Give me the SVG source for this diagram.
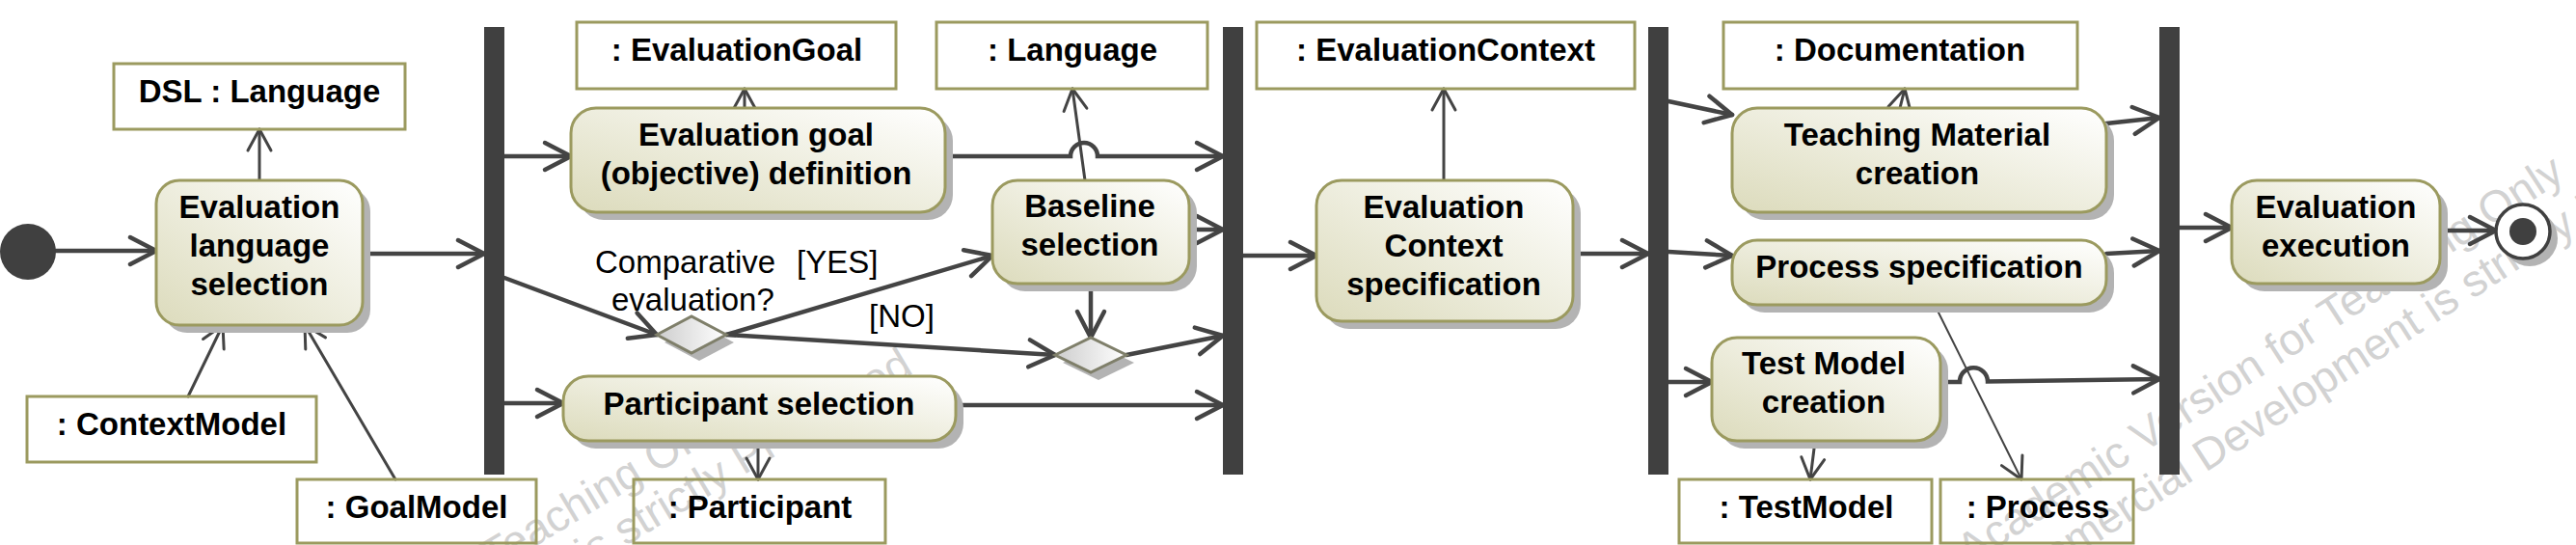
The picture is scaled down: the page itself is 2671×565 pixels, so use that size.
<svg xmlns="http://www.w3.org/2000/svg" width="2671" height="565" viewBox="0 0 2671 565">
<defs>
<linearGradient id="ag" x1="0" y1="1" x2="1" y2="0">
<stop offset="0" stop-color="#dcdbbc"/>
<stop offset="1" stop-color="#ffffff"/>
</linearGradient>
<linearGradient id="dg" x1="0" y1="0" x2="1" y2="0">
<stop offset="0" stop-color="#cdcdcd"/>
<stop offset="1" stop-color="#ffffff"/>
</linearGradient>
<marker id="ah" markerUnits="userSpaceOnUse" viewBox="-34 -20 40 40" markerWidth="40" markerHeight="40" refX="0" refY="0" orient="auto">
<path d="M-27,-14 L0,0 L-27,14" fill="none" stroke="#444" stroke-width="4.5" stroke-linecap="round" stroke-linejoin="round"/>
</marker>
<marker id="ahs" markerUnits="userSpaceOnUse" viewBox="-30 -18 36 36" markerWidth="36" markerHeight="36" refX="0" refY="0" orient="auto">
<path d="M-22,-12 L0,0 L-22,12" fill="none" stroke="#444" stroke-width="3" stroke-linecap="round" stroke-linejoin="round"/>
</marker>
<style>
.act{fill:url(#ag);stroke:#9b9a5f;stroke-width:3}
.sh{fill:#b3b3b3}
.obj{fill:none;stroke:#9b9a5f;stroke-width:3}
.bar{fill:#404040}
.dia{fill:url(#dg);stroke:#7f7f6a;stroke-width:3}
.cf{fill:none;stroke:#444;stroke-width:4.5;stroke-linecap:round;marker-end:url(#ah)}
.of{fill:none;stroke:#444;stroke-width:3;stroke-linecap:round;marker-end:url(#ahs)}
.of2{fill:none;stroke:#444;stroke-width:2;stroke-linecap:round;marker-end:url(#ahs)}
.t{font-family:"Liberation Sans",Arial,sans-serif;font-weight:bold;font-size:33px;text-anchor:middle;fill:#000}
.lbl{font-family:"Liberation Sans",Arial,sans-serif;font-size:33px;fill:#000}
.wm{font-family:"Liberation Sans",Arial,sans-serif;font-size:46px;fill:#d2d2d2}
</style>
</defs>
<rect width="2671" height="565" fill="#fff"/>

<g id="watermark">
<g transform="translate(128,823) rotate(-31)">
<text class="wm" x="0" y="0">Academic Version for Teaching Only</text>
<text class="wm" x="-10" y="48">Commercial Development is strictly Prohibited</text>
</g>
<g transform="translate(2042,587) rotate(-33)">
<text class="wm" x="0" y="0">Academic Version for Teaching Only</text>
<text class="wm" x="0" y="52">Commercial Development is strictly Prohibited</text>
</g>
</g>

<g id="connectors">
<path class="cf" d="M58,260 L162,260"/>
<path class="cf" d="M376,263 L502,263"/>
<path class="of" d="M269,187 L269,134"/>
<path class="of" d="M195,411 L231,337"/>
<path class="of" d="M410,497 L316,337"/>
<path class="cf" d="M523,162 L592,162"/>
<path class="cf" d="M523,288 L681,347"/>
<path class="cf" d="M523,418 L584,418"/>
<path class="of" d="M772,112 L772,92"/>
<path class="cf" d="M980,162 L1110,162 A14,14 0 0 1 1138,162 L1268,162"/>
<path class="cf" d="M753,347 L1029,265"/>
<path class="cf" d="M753,347 L1094,368"/>
<path class="of" d="M1125,187 L1112,92"/>
<path class="cf" d="M1233,238 L1268,238"/>
<path class="cf" d="M1131,294 L1131,350"/>
<path class="cf" d="M1168,368 L1268,348"/>
<path class="cf" d="M991,420 L1268,420"/>
<path class="of" d="M786,457 L786,497"/>
<path class="cf" d="M1289,265 L1365,265"/>
<path class="of" d="M1497,187 L1497,92"/>
<path class="cf" d="M1631,263 L1709,263"/>
<path class="cf" d="M1730,105 L1796,119"/>
<path class="cf" d="M1730,261 L1796,265"/>
<path class="cf" d="M1730,396 L1775,396"/>
<path class="of" d="M1970,112 L1975,92"/>
<path class="cf" d="M2184,128 L2239,122"/>
<path class="cf" d="M2184,263 L2239,260"/>
<path class="cf" d="M2012,396 L2032,396 A14.5,14.5 0 0 1 2061,395.5 L2239,393"/>
<path class="of2" d="M2006,316 L2096,497"/>
<path class="of" d="M1882,457 L1877,497"/>
<path class="cf" d="M2260,236 L2314,236"/>
<path class="cf" d="M2530,239 L2588,239"/>
</g>

<g id="initial"><circle cx="29" cy="261" r="29" fill="#404040"/></g>

<g id="fork1"><rect class="bar" x="502" y="28" width="21" height="464"/></g>
<g id="fork2"><rect class="bar" x="1268" y="28" width="21" height="464"/></g>
<g id="fork3"><rect class="bar" x="1709" y="28" width="21" height="464"/></g>
<g id="fork4"><rect class="bar" x="2239" y="28" width="21" height="464"/></g>

<g id="act-lang-sel">
<rect class="sh" x="170" y="195" width="214" height="150" rx="24"/>
<rect class="act" x="162" y="187" width="214" height="150" rx="24"/>
<text class="t" x="269" y="226">Evaluation</text>
<text class="t" x="269" y="266">language</text>
<text class="t" x="269" y="306">selection</text>
</g>
<g id="obj-dsl"><rect class="obj" x="118" y="66" width="302" height="68"/><text class="t" x="269" y="106">DSL : Language</text></g>
<g id="obj-contextmodel"><rect class="obj" x="28" y="411" width="300" height="68"/><text class="t" x="178" y="451">: ContextModel</text></g>
<g id="obj-goalmodel"><rect class="obj" x="308" y="497" width="248" height="66"/><text class="t" x="432" y="537">: GoalModel</text></g>

<g id="act-goal-def">
<rect class="sh" x="600" y="120" width="388" height="108" rx="26"/>
<rect class="act" x="592" y="112" width="388" height="108" rx="26"/>
<text class="t" x="784" y="151">Evaluation goal</text>
<text class="t" x="784" y="191">(objective) definition</text>
</g>
<g id="obj-evalgoal"><rect class="obj" x="598" y="23" width="331" height="69"/><text class="t" x="764" y="63">: EvaluationGoal</text></g>

<g id="decision">
<polygon class="sh" points="689,355 725,336 761,355 725,374"/>
<polygon class="dia" points="681,347 717,328 753,347 717,366"/>
</g>
<g id="labels">
<text class="lbl" x="617" y="283">Comparative</text>
<text class="lbl" x="634" y="322">evaluation?</text>
<text class="lbl" x="826" y="283">[YES]</text>
<text class="lbl" x="901" y="339">[NO]</text>
</g>

<g id="act-participant-sel">
<rect class="sh" x="592" y="398" width="407" height="67" rx="26"/>
<rect class="act" x="584" y="390" width="407" height="67" rx="26"/>
<text class="t" x="787" y="430">Participant selection</text>
</g>
<g id="obj-participant"><rect class="obj" x="657" y="497" width="261" height="66"/><text class="t" x="788" y="537">: Participant</text></g>

<g id="act-baseline">
<rect class="sh" x="1037" y="195" width="204" height="107" rx="26"/>
<rect class="act" x="1029" y="187" width="204" height="107" rx="26"/>
<text class="t" x="1130" y="225">Baseline</text>
<text class="t" x="1130" y="265">selection</text>
</g>
<g id="obj-language"><rect class="obj" x="971" y="23" width="281" height="69"/><text class="t" x="1112" y="63">: Language</text></g>

<g id="merge">
<polygon class="sh" points="1102,376 1139,358 1176,376 1139,394"/>
<polygon class="dia" points="1094,368 1131,350 1168,368 1131,386"/>
</g>

<g id="act-context-spec">
<rect class="sh" x="1373" y="195" width="266" height="146" rx="26"/>
<rect class="act" x="1365" y="187" width="266" height="146" rx="26"/>
<text class="t" x="1497" y="226">Evaluation</text>
<text class="t" x="1497" y="266">Context</text>
<text class="t" x="1497" y="306">specification</text>
</g>
<g id="obj-evalcontext"><rect class="obj" x="1303" y="23" width="392" height="69"/><text class="t" x="1499" y="63">: EvaluationContext</text></g>

<g id="act-teaching">
<rect class="sh" x="1804" y="120" width="388" height="108" rx="26"/>
<rect class="act" x="1796" y="112" width="388" height="108" rx="26"/>
<text class="t" x="1988" y="151">Teaching Material</text>
<text class="t" x="1988" y="191">creation</text>
</g>
<g id="obj-documentation"><rect class="obj" x="1787" y="23" width="367" height="69"/><text class="t" x="1970" y="63">: Documentation</text></g>

<g id="act-process-spec">
<rect class="sh" x="1804" y="257" width="388" height="67" rx="26"/>
<rect class="act" x="1796" y="249" width="388" height="67" rx="26"/>
<text class="t" x="1990" y="288">Process specification</text>
</g>

<g id="act-testmodel">
<rect class="sh" x="1783" y="358" width="237" height="107" rx="26"/>
<rect class="act" x="1775" y="350" width="237" height="107" rx="26"/>
<text class="t" x="1891" y="388">Test Model</text>
<text class="t" x="1891" y="428">creation</text>
</g>
<g id="obj-testmodel"><rect class="obj" x="1741" y="497" width="262" height="66"/><text class="t" x="1873" y="537">: TestModel</text></g>
<g id="obj-process"><rect class="obj" x="2012" y="497" width="200" height="66"/><text class="t" x="2113" y="537">: Process</text></g>

<g id="act-execution">
<rect class="sh" x="2322" y="195" width="216" height="107" rx="26"/>
<rect class="act" x="2314" y="187" width="216" height="107" rx="26"/>
<text class="t" x="2422" y="226">Evaluation</text>
<text class="t" x="2422" y="266">execution</text>
</g>

<g id="final">
<circle cx="2623" cy="247" r="29" fill="#b3b3b3"/>
<circle cx="2616" cy="240" r="28" fill="#fff" stroke="#404040" stroke-width="3.5"/>
<circle cx="2616" cy="240" r="14" fill="#404040"/>
</g>
</svg>
